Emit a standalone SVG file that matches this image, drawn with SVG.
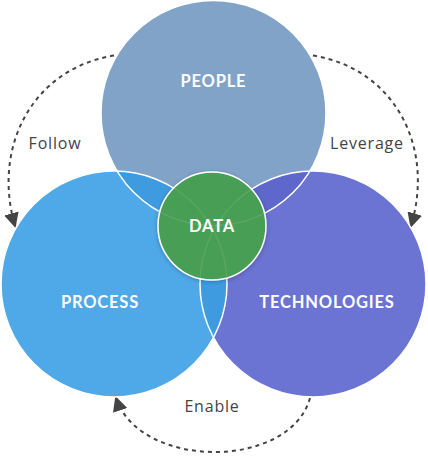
<svg xmlns="http://www.w3.org/2000/svg" width="428" height="456" viewBox="0 0 428 456">
<style>
.lbl{font-family:Lato,"Open Sans","Liberation Sans",sans-serif;font-weight:bold;font-size:16.5px;letter-spacing:0.8px;fill:#fff;text-anchor:middle}
.cl{font-family:"Open Sans",Lato,"Liberation Sans",sans-serif;font-size:16px;letter-spacing:0.8px;fill:#444;text-anchor:middle}
.edge{fill:none;stroke:#fff;stroke-width:1.5}
.dash{fill:none;stroke:#444;stroke-width:2;stroke-dasharray:4 4;marker-end:url(#ah)}
.faint{fill:none;stroke:#fff;stroke-opacity:0.1;stroke-width:1.2}
</style>
<defs>
<marker id="ah" markerWidth="15" markerHeight="15" refX="13" refY="7.5" orient="auto" markerUnits="userSpaceOnUse">
<path d="M0,0 L15,7.5 L0,15 z" fill="#444"/>
</marker>
<clipPath id="cPeople"><circle cx="213.5" cy="113" r="112.5"/></clipPath>
<clipPath id="cProcess"><circle cx="114" cy="284" r="113"/></clipPath>
<clipPath id="cData"><circle cx="212" cy="226" r="54"/></clipPath>
<filter id="sh" x="-20%" y="-20%" width="140%" height="140%"><feDropShadow dx="0" dy="1" stdDeviation="2" flood-opacity="0.25"/></filter>
</defs>
<g id="connectors">
<path class="dash" d="M130,54 C40,58 -10,140 15,226"/>
<path class="dash" d="M297,54 C387,58 437,140 411,226"/>
<path class="dash" d="M310,398 C290,470 140,470 116,398"/>
</g>
<g id="people"><circle cx="213.5" cy="113" r="112.5" fill="#82a3c8"/></g>
<g id="process"><circle cx="114" cy="284" r="113" fill="#4fa8e8"/></g>
<g id="technologies"><circle cx="313" cy="284" r="113" fill="#6b73d3"/></g>
<g id="overlaps">
<g clip-path="url(#cPeople)"><circle cx="114" cy="284" r="113" fill="#3f9be0"/><circle cx="313" cy="284" r="113" fill="#5e67cc"/></g>
<g clip-path="url(#cProcess)"><circle cx="313" cy="284" r="113" fill="#3f9be0"/></g>
<circle class="edge" cx="213.5" cy="113" r="112.5"/>
<circle class="edge" cx="114" cy="284" r="113"/>
<circle class="edge" cx="313" cy="284" r="113"/>
</g>
<g id="data">
<circle cx="212" cy="226" r="54" fill="#4a9e55" stroke="#fff" stroke-width="1.5" filter="url(#sh)"/>
<g clip-path="url(#cData)">
<circle class="faint" cx="213.5" cy="113" r="112.5"/>
<circle class="faint" cx="114" cy="284" r="113"/>
<circle class="faint" cx="313" cy="284" r="113"/>
</g>
<text class="lbl" x="212" y="232">DATA</text>
</g>
<text class="lbl" x="213.5" y="87">PEOPLE</text>
<text class="lbl" x="100" y="308">PROCESS</text>
<text class="lbl" x="327" y="308">TECHNOLOGIES</text>
<text class="cl" x="55" y="149">Follow</text>
<text class="cl" x="367" y="149">Leverage</text>
<text class="cl" x="212" y="412">Enable</text>
</svg>
